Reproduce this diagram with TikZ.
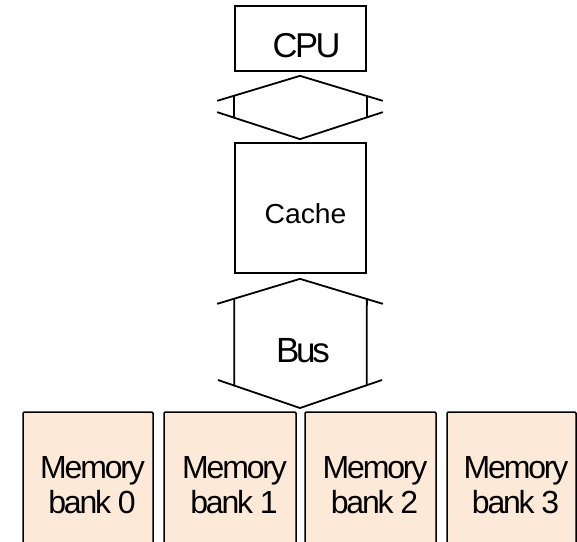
\documentclass[tikz,border=0pt]{standalone}
\usepackage{fontspec}
\setmainfont{Liberation Sans}
\newfontfamily\cpusf{Liberation Sans}[LetterSpace=-7.2]
\newfontfamily\cachesf{Liberation Sans}[FakeStretch=1.03]
\newfontfamily\bussf{Liberation Sans}[LetterSpace=-9.4]
\newfontfamily\banksf{Liberation Sans}[LetterSpace=-6.9]
\usetikzlibrary{calc}
\definecolor{bankfill}{RGB}{252,233,216}
\begin{document}
\begin{tikzpicture}[x=1pt,y=-1pt,
  unitbox/.style={draw=black, line width=1.7pt, inner sep=0pt, minimum width=131pt},
  bankbox/.style={draw=black, fill=bankfill, line width=1.5pt, rounded corners=1.2pt,
                  inner sep=0pt, minimum height=170pt},
  link/.style={draw=black, line width=1.8pt, line join=miter},
  bigtext/.style={anchor=base, inner sep=0pt},
  banktext/.style={anchor=base, inner sep=0pt, font=\banksf\fontsize{32}{35}\selectfont}]
\useasboundingbox (0,0) rectangle (577,541);
\clip (0,0) rectangle (577,541);

% processor and cache
\node[unitbox, minimum height=65pt] (cpu) at (300.5,38.5) {};
\node[bigtext, font=\cpusf\fontsize{34.5}{36}\selectfont] (cpulabel) at (306.5,57) {CPU};
\node[unitbox, minimum height=130pt] (cache) at (300.5,208) {};
\node[bigtext, font=\cachesf\fontsize{27.5}{30}\selectfont] (cachelabel) at (305.5,223) {Cache};

% memory banks
\foreach \cx/\w/\i in {88/130/0, 230/132/1, 370.5/131/2, 511.5/129/3}{
  \node[bankbox, minimum width=\w pt] (bank\i) at (\cx,497) {};
  \node[banktext] (bank\i a) at (\cx+4.5,478) {Memory};
  \node[banktext] (bank\i b) at (\cx+4,513) {bank \i};
}

% link between CPU and cache
\draw[link] ($(cpu.south west)+(-17,29)$) -- ($(cpu.south)+(-0.5,4)$) -- ($(cpu.south east)+(16,29)$);
\draw[link] ($(cache.north west)+(-17,-30)$) -- ($(cache.north)+(-0.5,-3)$) -- ($(cache.north east)+(16,-30)$);
\draw[link] ($(cpu.south west)+(0,24)$) -- ($(cache.north west)+(0,-24.5)$);
\draw[link] ($(cpu.south east)+(0,24)$) -- ($(cache.north east)+(0,-24.5)$);

% bus between cache and memory banks
\draw[link] ($(cache.south west)+(-17,30)$) -- ($(cache.south)+(-0.5,5)$) -- ($(cache.south east)+(16,30)$);
\coordinate (busleft) at (218,380);
\coordinate (busright) at (382,380);
\coordinate (bustip) at (300,408);
\draw[link] (busleft) -- (bustip) -- (busright);
\draw[link] ($(cache.south west)+(0,25)$) -- ($(bank1.north west)+(71,-26.2)$);
\draw[link] ($(cache.south east)+(0,25)$) -- ($(bank2.north east)+(-70,-26.5)$);
\node[bigtext, font=\bussf\fontsize{35}{37}\selectfont] (bus) at (303,362) {Bus};
\end{tikzpicture}
\end{document}
